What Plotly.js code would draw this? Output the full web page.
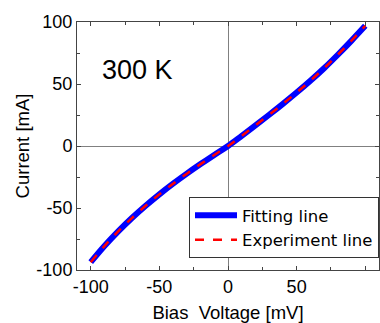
<!DOCTYPE html>
<html>
<head>
<meta charset="utf-8">
<script src="https://cdn.plot.ly/plotly-3.0.1.min.js"></script>
<style>html,body{margin:0;padding:0;background:#fff;}#chart{width:380px;height:323px;}</style>
</head>
<body>
<div id="chart"></div>
<script>
var voltage = [-100, -90, -80, -70, -60, -50, -40, -30, -20, -10, 0, 10, 20, 30, 40, 50, 60, 70, 80, 90, 100];
var fitCurrent = [-93.7, -80.7, -68.9, -58.1, -48.2, -39, -30.4, -22.3, -14.6, -7.2, 0, 8.2, 16.6, 25.2, 34, 43.1, 52.6, 62.7, 73.6, 85, 96.9];
var expCurrent = [-93.7, -80.7, -68.9, -58.1, -48.2, -39, -30.4, -22.3, -14.6, -7.2, 0, 8.2, 16.6, 25.2, 34, 43.1, 52.6, 62.7, 73.6, 85, 96.9];
var seriesNames = ["Fitting line", "Experiment line"];
var xTicks = [-100, -50, 0, 50, 100];
var yTicks = [-100, -50, 0, 50, 100];

var axisFont = {family: "Liberation Sans, Arial, sans-serif", size: 18, color: "#000"};
var traces = [
  {x: voltage, y: fitCurrent, name: seriesNames[0], type: "scatter", mode: "lines",
   line: {color: "#0000ff", width: 6, shape: "spline"}},
  {x: voltage, y: expCurrent, name: seriesNames[1], type: "scatter", mode: "lines",
   line: {color: "#ff0000", width: 2.5, dash: "dash", shape: "spline"}}
];
var axCommon = {
  showgrid: false, zeroline: true, zerolinecolor: "#808080", zerolinewidth: 1,
  showline: true, linecolor: "#444", linewidth: 1, mirror: "ticks",
  ticks: "inside", ticklen: 4, tickcolor: "#444", tickwidth: 1,
  minor: {ticks: "inside", ticklen: 3, dtick: 25, tickcolor: "#444", tickwidth: 1},
  tickfont: axisFont
};
var layout = {
  width: 380, height: 323,
  margin: {l: 77, r: 1, t: 22, b: 53},
  paper_bgcolor: "#fff", plot_bgcolor: "#fff",
  showlegend: true,
  xaxis: Object.assign({}, axCommon, {
    range: [-110, 110], tickvals: xTicks, ticktext: xTicks.map(String),
    title: {text: "Bias\u00a0 Voltage [mV]", font: {family: "Liberation Sans, Arial, sans-serif", size: 18.5, color: "#000"}, standoff: 10}
  }),
  yaxis: Object.assign({}, axCommon, {
    range: [-100, 100], tickvals: yTicks, ticktext: yTicks.map(String),
    title: {text: "Current [mA]", font: {family: "Liberation Sans, Arial, sans-serif", size: 18.5, color: "#000"}, standoff: 1}
  }),
  legend: {x: 1, y: 0.294, xanchor: "right", yanchor: "top",
    bgcolor: "#fff", bordercolor: "#333", borderwidth: 1, itemwidth: 42,
    font: {family: "DejaVu Sans, sans-serif", size: 16.5, color: "#000"}},
  annotations: [{x: -66, y: 61, xref: "x", yref: "y", text: "300 K", showarrow: false,
    font: {family: "Liberation Sans, Arial, sans-serif", size: 27, color: "#000"}}]
};
Plotly.newPlot("chart", traces, layout, {staticPlot: true, displayModeBar: false});
</script>
</body>
</html>
